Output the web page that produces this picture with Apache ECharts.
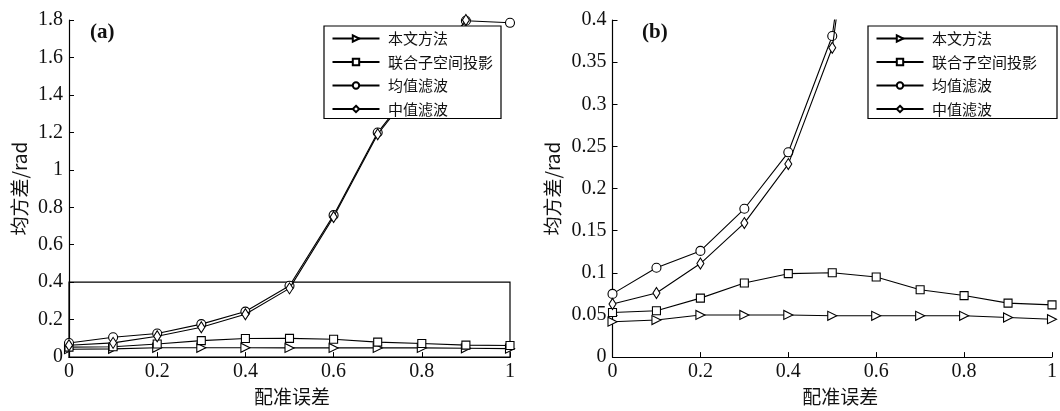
<!DOCTYPE html>
<html>
<head>
<meta charset="utf-8">
<script src="https://cdn.jsdelivr.net/npm/echarts@6/dist/echarts.min.js"></script>
<style>
html,body{margin:0;padding:0;background:#fff;}
#chart{width:1060px;height:411px;}
</style>
</head>
<body>
<div id="chart"></div>
<script>
// ---- data ----
const xValues = [0, 0.1, 0.2, 0.3, 0.4, 0.5, 0.6, 0.7, 0.8, 0.9, 1.0];
const seriesNames = ['本文方法', '联合子空间投影', '均值滤波', '中值滤波'];
const proposed = [0.042, 0.044, 0.050, 0.050, 0.050, 0.049, 0.049, 0.049, 0.049, 0.047, 0.045];
const jointSubspace = [0.053, 0.055, 0.070, 0.088, 0.099, 0.100, 0.095, 0.080, 0.073, 0.064, 0.062];
const meanFilter = [0.075, 0.106, 0.126, 0.176, 0.243, 0.381, 0.758, 1.199, 1.50, 1.796, 1.785];
const medianFilter = [0.063, 0.076, 0.111, 0.159, 0.229, 0.367, 0.748, 1.190, 1.49, 1.800, 1.860];
const xTicks = [0, 0.2, 0.4, 0.6, 0.8, 1];
const yTicksA = [0, 0.2, 0.4, 0.6, 0.8, 1, 1.2, 1.4, 1.6, 1.8];
const yTicksB = [0, 0.05, 0.1, 0.15, 0.2, 0.25, 0.3, 0.35, 0.4];
const xName = '配准误差';
const yName = '均方差/rad';
const zoomBox = [[0, 0], [1, 0.4]];

const serif = "'Liberation Serif', 'Noto Sans CJK SC', serif";
const cjk = "'Noto Sans CJK SC', 'Liberation Serif', serif";

const dataSets = [proposed, jointSubspace, meanFilter, medianFilter];
const symbols = [
  {symbol: 'triangle', size: 9, rotate: -90},
  {symbol: 'rect', size: 8, rotate: 0},
  {symbol: 'circle', size: 9, rotate: 0},
  {symbol: 'diamond', size: [7, 11], rotate: 0}
];

function pairs(arr) { return xValues.map((x, i) => [x, arr[i]]); }

const series = [];
[0, 1].forEach(g => {
  dataSets.forEach((d, k) => {
    const s = {
      name: seriesNames[k],
      type: 'line',
      xAxisIndex: g,
      yAxisIndex: g,
      data: pairs(d),
      symbol: symbols[k].symbol,
      symbolSize: symbols[k].size,
      symbolRotate: symbols[k].rotate,
      showAllSymbol: true,
      clip: true,
      animation: false,
      lineStyle: {color: '#000', width: 1.1},
      itemStyle: {color: '#fff', borderColor: '#000', borderWidth: 1.1},
      emphasis: {disabled: true},
      z: 3 + k
    };
    if (g === 0 && k === 0) {
      s.markArea = {
        silent: true,
        itemStyle: {color: 'rgba(0,0,0,0)', borderColor: '#000', borderWidth: 1.2},
        data: [[{coord: zoomBox[0]}, {coord: zoomBox[1]}]]
      };
    }
    series.push(s);
  });
});

function xAxis(g, shift) {
  return {
    type: 'value', gridIndex: g, min: 0, max: 1, interval: 0.2,
    name: xName, nameLocation: 'middle', nameGap: 29,
    nameTextStyle: {fontFamily: cjk, fontSize: 19, color: '#111', padding: [0, 0, 0, shift]},
    axisLine: {show: true, lineStyle: {color: '#000', width: 1.2}},
    axisTick: {show: true, inside: true, length: 5, lineStyle: {color: '#000'}},
    axisLabel: {fontFamily: serif, fontSize: 20, color: '#111', margin: 5},
    splitLine: {show: false}
  };
}
function yAxis(g, max, interval, gap) {
  return {
    type: 'value', gridIndex: g, min: 0, max: max, interval: interval,
    name: yName, nameLocation: 'middle', nameGap: gap, nameRotate: 90,
    nameTextStyle: {fontFamily: cjk, fontSize: 19, color: '#111'},
    axisLine: {show: true, lineStyle: {color: '#000', width: 1.2}},
    axisTick: {show: true, inside: true, length: 5, lineStyle: {color: '#000'}},
    axisLabel: {fontFamily: serif, fontSize: 20, color: '#111', margin: 6},
    splitLine: {show: false}
  };
}
function legend(left, padRight) {
  return {
    orient: 'vertical', left: left, top: 26,
    data: seriesNames,
    itemWidth: 47, itemHeight: 8, itemGap: 8.5,
    padding: [5, padRight, 2, 7.5],
    backgroundColor: '#fff', borderColor: '#000', borderWidth: 1.2, borderRadius: 0,
    textStyle: {fontFamily: cjk, fontSize: 15, lineHeight: 14, color: '#111', padding: [0, 0, 0, 3.5]},
    selectedMode: false,
    z: 10
  };
}

const option = {
  backgroundColor: '#fff',
  animation: false,
  grid: [
    {left: 69, top: 20, width: 441, height: 342},
    {left: 612.5, top: 20, width: 440, height: 342}
  ],
  xAxis: [xAxis(0, 5), xAxis(1, 16)],
  yAxis: [yAxis(0, 1.8, 0.2, 40), yAxis(1, 0.4, 0.05, 50)],
  legend: [legend(324, 8), legend(868, 20)],
  graphic: [
    {type: 'text', left: 90, top: 22, style: {text: '(a)', fontFamily: serif, fontSize: 21, fontWeight: 'bold', fill: '#111'}},
    {type: 'text', left: 642, top: 22, style: {text: '(b)', fontFamily: serif, fontSize: 21, fontWeight: 'bold', fill: '#111'}}
  ],
  series: series
};

const chart = echarts.init(document.getElementById('chart'), null, {renderer: 'canvas'});
chart.setOption(option);
</script>
</body>
</html>
